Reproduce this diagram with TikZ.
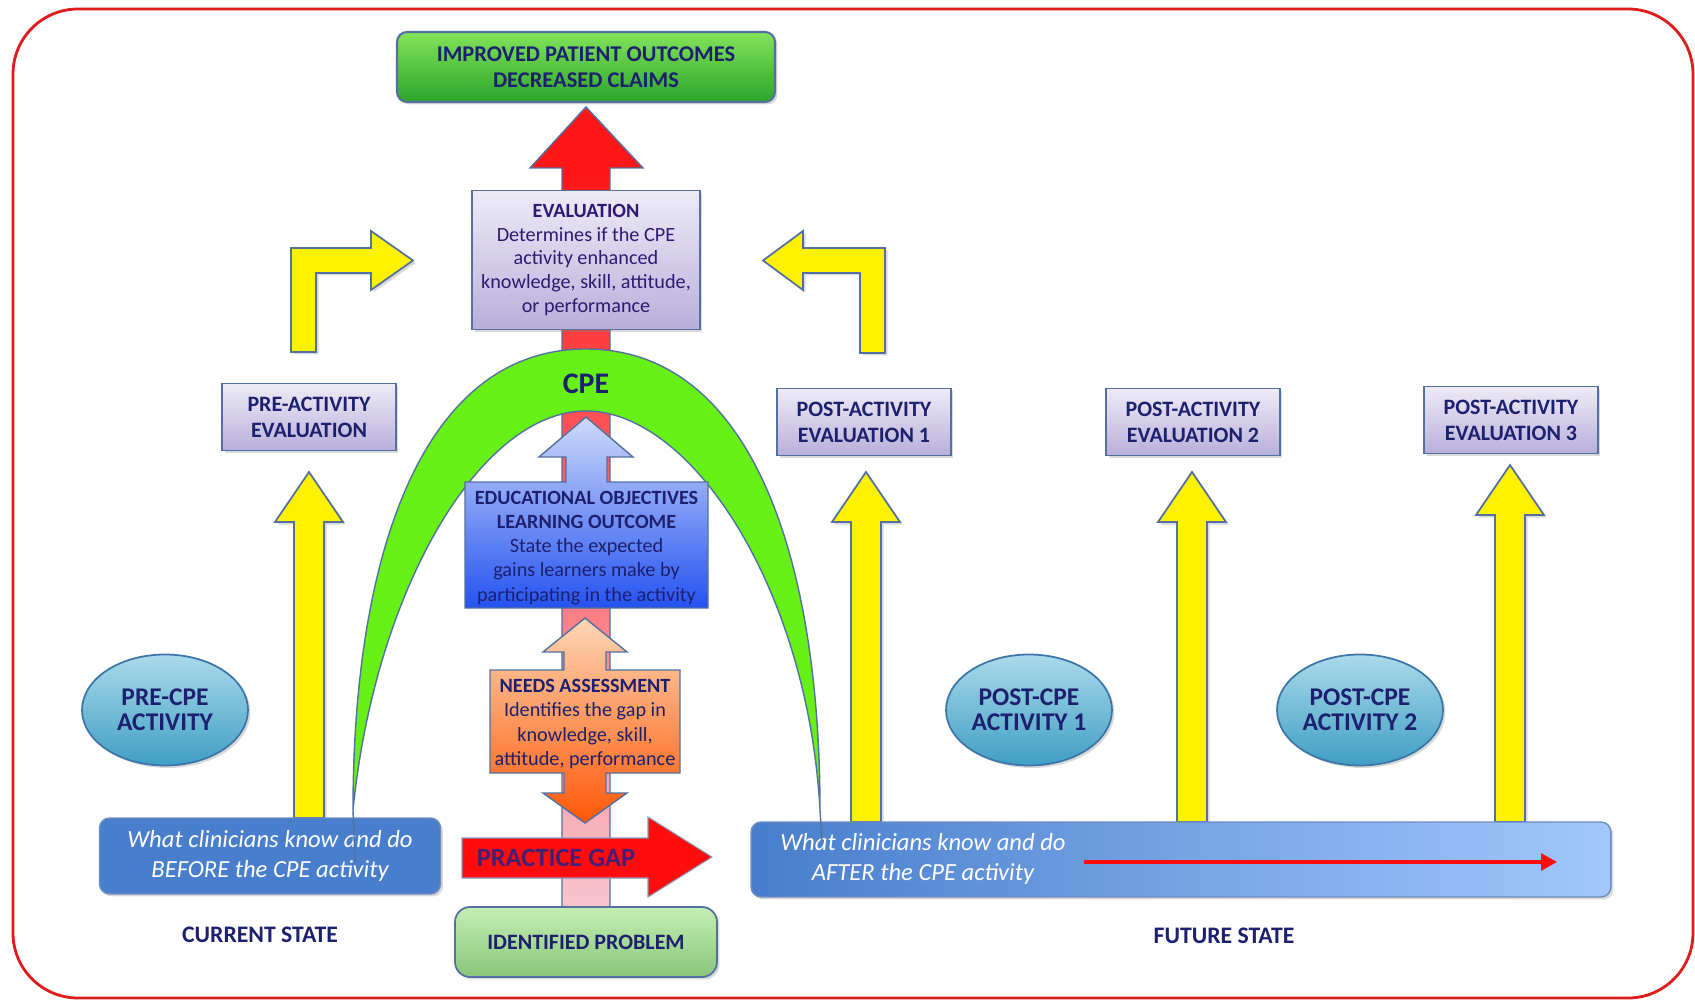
\documentclass[tikz,border=0pt]{standalone}
\usepackage{fontspec}
\setmainfont{Carlito}
\usetikzlibrary{arrows.meta,positioning,shapes.geometric,shadows,calc}
\definecolor{navytext}{RGB}{28,32,110}
\definecolor{edgeblue}{RGB}{84,112,160}
\definecolor{framered}{RGB}{222,28,28}
\definecolor{lavtop}{RGB}{238,235,247}
\definecolor{lavbot}{RGB}{184,175,218}
\definecolor{goaltop}{RGB}{130,228,90}
\definecolor{goalbot}{RGB}{44,164,44}
\definecolor{arrowred}{RGB}{255,22,22}
\definecolor{arrowpink}{RGB}{248,204,214}
\definecolor{cpegreen}{RGB}{102,240,22}
\definecolor{tealtop}{RGB}{170,218,234}
\definecolor{tealbot}{RGB}{64,158,196}
\definecolor{tealedge}{RGB}{60,118,168}
\definecolor{knowblue}{RGB}{72,126,204}
\definecolor{knowlight}{RGB}{162,200,252}
\definecolor{knowedge}{RGB}{110,140,190}
\definecolor{edutop}{RGB}{206,218,250}
\definecolor{edubot}{RGB}{36,82,240}
\definecolor{needstop}{RGB}{252,214,180}
\definecolor{needsbot}{RGB}{255,88,8}
\definecolor{gapred}{RGB}{255,12,12}
\definecolor{gaptext}{RGB}{66,30,118}
\definecolor{probtop}{RGB}{196,238,180}
\definecolor{probbot}{RGB}{138,198,122}

% block arrow pointing up: x, bottom y, tip y
\newcommand{\fatup}[3]{%
  \draw[yelarrow] (#1-15,#2) -- (#1-15,#3+50) -- (#1-34,#3+50) -- (#1,#3)
    -- (#1+34,#3+50) -- (#1+15,#3+50) -- (#1+15,#2) -- cycle;}

\begin{document}
\begin{tikzpicture}[x=0.02cm, y=-0.02cm,
    every node/.style={text=navytext},
    softshadow/.style={drop shadow={shadow xshift=0.05cm,shadow yshift=-0.05cm,opacity=0.3}},
    lavbox/.style={rectangle,draw=edgeblue,line width=1pt,top color=lavtop,bottom color=lavbot,align=center,softshadow},
    statebox/.style={lavbox,minimum width=3.48cm,minimum height=1.34cm,font=\bfseries\fontsize{12.5}{14.8}\selectfont},
    activity/.style={ellipse,draw=tealedge,line width=1pt,top color=tealtop,bottom color=tealbot,
      minimum width=3.32cm,minimum height=2.22cm,align=center,inner sep=0pt,
      font=\bfseries\fontsize{14.5}{14}\selectfont,softshadow},
    knowbox/.style={rectangle,rounded corners=0.2cm,draw=knowedge,line width=0.8pt,align=center,
      text=white,font=\itshape\fontsize{14}{17}\selectfont,softshadow},
    yelarrow/.style={fill=yellow,draw=edgeblue,line width=1pt,softshadow},
    statelabel/.style={font=\bfseries\fontsize{13.5}{16}\selectfont},
    bodytext/.style={align=center,font=\fontsize{11.5}{13.7}\selectfont}]

  \useasboundingbox (0,0) rectangle (1695,1000);
  \draw[framered,line width=1.6pt,rounded corners=1.3cm] (13,9) rectangle (1693,998);

  % central arrow, problem -> outcomes
  \shade[top color=arrowred,bottom color=arrowpink] (562,168) rectangle (610,935);
  \fill[arrowred] (530,168) -- (586,107) -- (643,168) -- cycle;
  \draw[edgeblue,line width=0.8pt] (562,935) -- (562,168) -- (530,168) -- (586,107)
    -- (643,168) -- (610,168) -- (610,935);

  % CPE arch
  \draw[fill=cpegreen,draw=edgeblue,line width=0.8pt]
    (353,810) .. controls (353,560) and (420,349) .. (586,349)
    .. controls (752,349) and (820,560) .. (820,810)
    .. controls (808,590) and (692,411) .. (586,411)
    .. controls (480,411) and (375,590) .. (353,810) -- cycle;
  \node[font=\bfseries\fontsize{17}{20}\selectfont] (cpe) at (586,384) {CPE};

  \node[rectangle,rounded corners=0.2cm,draw=edgeblue,line width=1.2pt,top color=goaltop,bottom color=goalbot,
    minimum width=7.56cm,minimum height=1.4cm,align=center,softshadow,
    font=\bfseries\fontsize{12.8}{14.8}\selectfont] (outcome) at (586,67)
    {IMPROVED PATIENT OUTCOMES\\DECREASED CLAIMS};

  \node[lavbox,minimum width=4.56cm,minimum height=2.78cm,font=\fontsize{11.5}{13.5}\selectfont,
    text=navytext!80!violet] (evaluation) at (586,260)
    {\textbf{EVALUATION}\\Determines if the CPE\\activity enhanced\\knowledge, skill, attitude,\\or performance};

  % elbow arrows
  \draw[yelarrow] (291,352) -- (291,248) -- (371,248) -- (371,231) -- (413,260.5)
    -- (371,290) -- (371,273) -- (316,273) -- (316,352) -- cycle;
  \draw[yelarrow] (885,353) -- (885,248) -- (803,248) -- (803,231) -- (763,260.5)
    -- (803,290) -- (803,273) -- (860,273) -- (860,353) -- cycle;

  \node[statebox] (preeval) at (309,417) {PRE-ACTIVITY\\EVALUATION};
  \node[statebox] (posteval1) at (864,422) {POST-ACTIVITY\\EVALUATION 1};
  \node[statebox] (posteval2) at (1193,422) {POST-ACTIVITY\\EVALUATION 2};
  \node[statebox] (posteval3) at (1511,420) {POST-ACTIVITY\\EVALUATION 3};

  \fatup{309}{818}{472}
  \fatup{866}{822}{472}
  \fatup{1192}{822}{472}
  \fatup{1510}{822}{465}

  % objectives and needs callouts
  \shadedraw[top color=edutop,bottom color=edubot,draw=edgeblue,line width=0.8pt]
    (586,417) -- (633,457) -- (607,457) -- (607,482) -- (708,482) -- (708,608)
    -- (465,608) -- (465,482) -- (566,482) -- (566,457) -- (539,457) -- cycle;
  \node[bodytext] (objectives) at (586.5,548)
    {\textbf{EDUCATIONAL OBJECTIVES}\\\textbf{LEARNING OUTCOME}\\State the expected\\gains learners make by\\participating in the activity};

  \shadedraw[top color=needstop,bottom color=needsbot,draw=edgeblue,line width=0.8pt]
    (585,618) -- (627,652) -- (606,652) -- (606,670) -- (680,670) -- (680,773)
    -- (606,773) -- (606,793) -- (627,793) -- (585,823) -- (543,793) -- (564,793)
    -- (564,773) -- (490,773) -- (490,670) -- (564,670) -- (564,652) -- (543,652) -- cycle;
  \node[bodytext] (needs) at (585,724)
    {\textbf{NEEDS ASSESSMENT}\\Identifies the gap in\\knowledge, skill,\\attitude, performance};

  \node[activity] (precpe) at (165,710) {PRE-CPE\\ACTIVITY};
  \node[activity] (postcpe1) at (1029,710) {POST-CPE\\ACTIVITY 1};
  \node[activity] (postcpe2) at (1360,710) {POST-CPE\\ACTIVITY 2};

  \node[knowbox,fill=knowblue,minimum width=6.82cm,minimum height=1.52cm] (before) at (270,856)
    {What clinicians know and do\\BEFORE the CPE activity};
  \node[knowbox,left color=knowblue,right color=knowlight,minimum width=17.2cm,minimum height=1.5cm]
    (after) at (1181,859.5) {};
  \node[align=center,text=white,font=\itshape\fontsize{14}{17}\selectfont] (aftertext) at (923,859)
    {What clinicians know and do\\AFTER the CPE activity};
  \coordinate (trendstart) at (1084,862);
  \coordinate (trendend) at (1557,862);
  \draw[gapred,line width=1.8pt,-{Triangle[length=0.32cm,width=0.34cm]}] (trendstart) -- (trendend);

  % arch tails
  \draw[edgeblue,line width=0.8pt] (353,810) -- (355,862);
  \draw[edgeblue,line width=0.8pt] (820,810) -- (822,842);

  \draw[fill=gapred,draw=edgeblue!70,line width=0.6pt] (462,838) -- (648,838) -- (648,817)
    -- (712,857) -- (648,897) -- (648,878) -- (462,878) -- cycle;
  \node[font=\bfseries\fontsize{15}{18}\selectfont,text=gaptext] (gap) at (556,858) {PRACTICE GAP};

  \node[rectangle,rounded corners=0.3cm,draw=edgeblue,line width=1pt,top color=probtop,bottom color=probbot,
    minimum width=5.24cm,minimum height=1.4cm,softshadow,
    font=\bfseries\fontsize{12.5}{15}\selectfont] (problem) at (586,942) {IDENTIFIED PROBLEM};

  \node[statelabel] (current) at (260,935) {CURRENT STATE};
  \node[statelabel] (future) at (1224,936) {FUTURE STATE};
\end{tikzpicture}
\end{document}
